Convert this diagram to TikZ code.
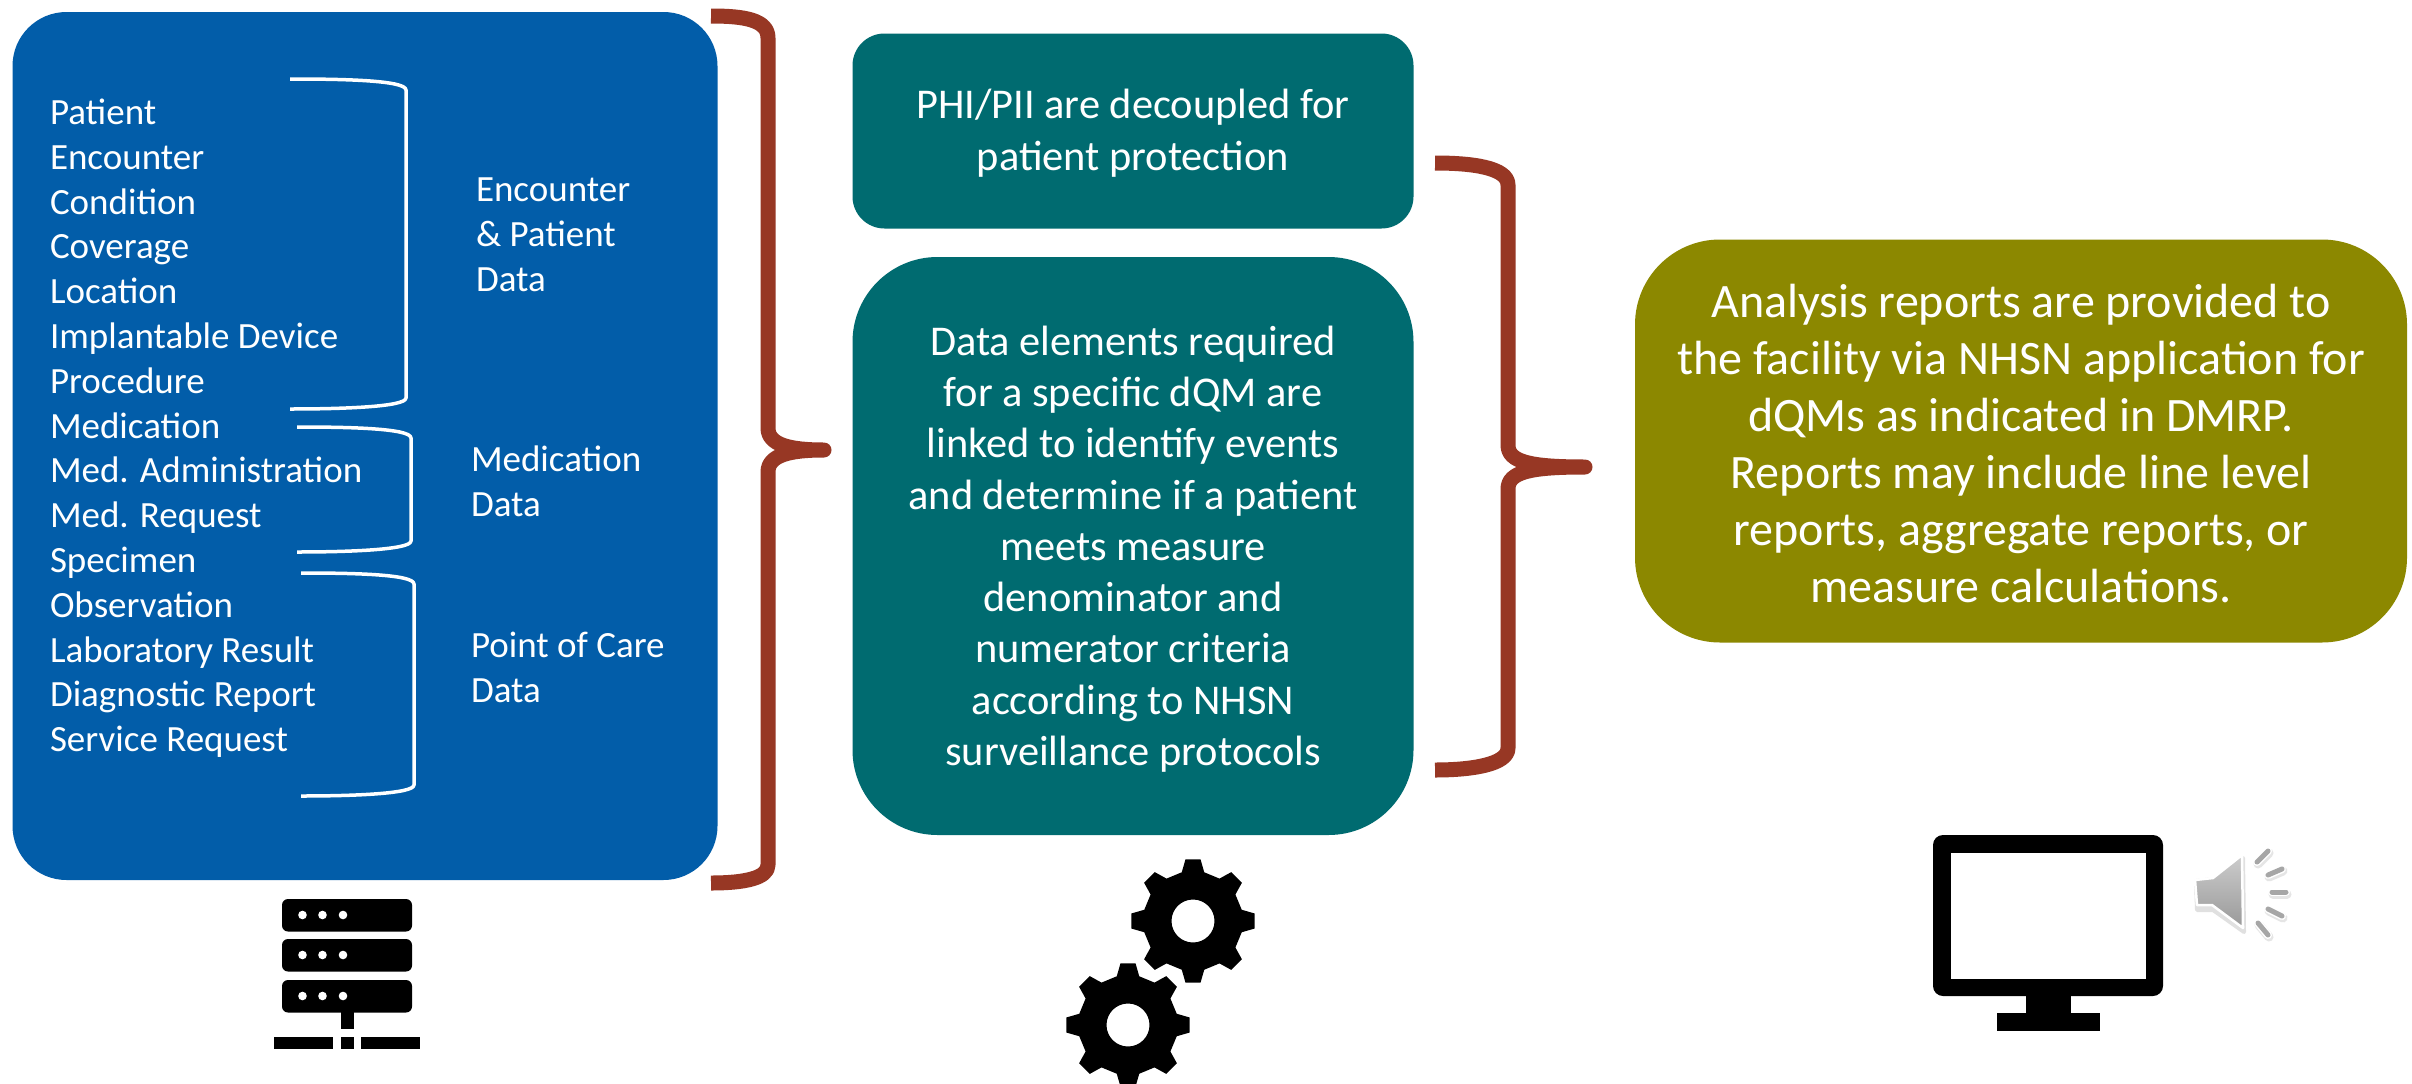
\documentclass[tikz,border=0pt]{standalone}
\usepackage{fontspec}
\setmainfont{Carlito}
\usetikzlibrary{shadings}
\definecolor{boxblue}{HTML}{025DA9}
\definecolor{boxteal}{HTML}{006B70}
\definecolor{boxolive}{HTML}{8C8800}
\definecolor{bracered}{HTML}{973724}
\tikzset{
  x=1pt,y=-1pt,
  panel/.style={draw=none,text=white,align=center,inner sep=0pt,outer sep=0pt},
  listtext/.style={text=white,align=left,inner sep=0pt,outer sep=0pt,anchor=north west,
    font=\fontsize{37}{44.8}\selectfont},
  bigbrace/.style={draw=bracered,line width=15pt,line join=round},
  thinbrace/.style={draw=white,line width=3.5pt,line join=round},
  raystroke/.style={line cap=round,line width=5pt}
}
\newcommand{\gearat}[2]{%
  \fill[black,even odd rule,shift={(#1,#2)}] (-13:50)
    \foreach \a in {0,45,...,315}{ -- (\a-13:50) -- (\a-7:62) -- (\a+7:62) -- (\a+13:50) } -- cycle
    (0,0) circle[radius=21.5];}
\begin{document}
\begin{tikzpicture}
\useasboundingbox (0,0) rectangle (2412,1084);
\fill[white] (0,0) rectangle (2412,1084);
% panels
\node[panel,fill=boxblue,minimum width=705pt,minimum height=868pt,rounded corners=54pt] (source) at (365,446) {};
\node[panel,fill=boxteal,minimum width=561pt,minimum height=195pt,rounded corners=32pt] (phi) at (1133,131) {};
\node[panel,font=\fontsize{42.4}{52}\selectfont] (phitext) at (1133,133.5) {PHI/PII are decoupled for\\patient protection};
\node[panel,fill=boxteal,minimum width=561pt,minimum height=578pt,rounded corners=85pt] (link) at (1133,546) {};
\node[panel,font=\fontsize{42.4}{51.3}\selectfont] (linktext) at (1133,549) {Data elements required\\for a specific dQM are\\linked to identify events\\and determine if a patient\\meets measure\\denominator and\\numerator criteria\\according to NHSN\\surveillance protocols};
\node[panel,fill=boxolive,minimum width=772pt,minimum height=403pt,rounded corners=85pt] (reports) at (2021,441) {};
\node[panel,font=\fontsize{48}{57}\selectfont] (reportstext) at (2021,444) {Analysis reports are provided to\\the facility via NHSN application for\\dQMs as indicated in DMRP.\\Reports may include line level\\reports, aggregate reports, or\\measure calculations.};
% lists
\node[listtext] (listA) at (50,99) {Patient\\Encounter\\Condition\\Coverage\\Location\\Implantable Device\\Procedure\\Medication\\Med. Administration\\Med. Request\\Specimen\\Observation\\Laboratory Result\\Diagnostic Report\\Service Request};
\node[listtext] (labA) at (476,178) {Encounter\\\& Patient\\Data};
\node[listtext] (labB) at (471,446) {Medication\\Data};
\node[listtext] (labC) at (471,632) {Point of Care\\Data};
% thin braces
\draw[thinbrace] (290,79) .. controls (340,79) and (406,80) .. (406,90) -- (406,398) .. controls (406,407) and (340,409) .. (290,409);
\draw[thinbrace] (297,427) .. controls (345,427) and (411,428) .. (411,438) -- (411,541) .. controls (411,550) and (345,552) .. (297,552);
\draw[thinbrace] (301,573) .. controls (350,573) and (414,574) .. (414,584) -- (414,785) .. controls (414,794) and (350,796) .. (301,796);
% big braces
\draw[bigbrace] (711,16) .. controls (745,16) and (768,20) .. (768,38) -- (768,428) .. controls (768,445) and (790,450) .. (824,450) .. controls (790,450) and (768,455) .. (768,472) -- (768,865) .. controls (768,878) and (745,883) .. (711,883);
\draw[bigbrace] (1435,163) .. controls (1470,163) and (1508,167) .. (1508,185) -- (1508,445) .. controls (1508,462) and (1530,467) .. (1585,467) .. controls (1530,467) and (1508,472) .. (1508,489) -- (1508,748) .. controls (1508,765) and (1470,770) .. (1435,770);
% server icon
\foreach \t in {899,939,980}{
  \fill[black,rounded corners=6pt] (282,\t) rectangle (412,\t+32.5);
  \foreach \d in {302.5,322.5,343}{\fill[white] (\d,\t+16) circle[radius=4.3];}
}
\fill[black] (341,1012) rectangle (354,1028.5);
\fill[black] (274,1036.5) rectangle (333,1049);
\fill[black] (341,1036.5) rectangle (354,1049);
\fill[black] (361,1036.5) rectangle (420,1049);
% gears
\gearat{1193}{921}
\gearat{1128}{1025}
% monitor
\fill[black,rounded corners=10pt] (1933,835) rectangle (2163,996);
\fill[white] (1951,853) rectangle (2146,979);
\fill[black] (2026,990) rectangle (2071,1020);
\fill[black] (1997,1013) rectangle (2100,1031);
% speaker
\path[fill=black!12,line width=4pt,draw=black!12,line join=round] (2196,881) -- (2214,879) -- (2243,858) -- (2244,932) -- (2213,910) -- (2197,910) -- cycle;
\path[top color=black!20,bottom color=black!40,draw=white,line width=2.5pt,line join=round] (2195,880) -- (2213,878) -- (2242,855) -- (2243,928) -- (2212,905) -- (2197,905) -- cycle;
\foreach \xa/\ya/\xb/\yb in {2257/862/2268/851,2268/875/2282/869,2272/892/2286/892,2268/909/2282/916,2258/923/2268/935}{
  \draw[raystroke,line width=9pt,black!10] (\xa+1,\ya+2) -- (\xb+1,\yb+2);
  \draw[raystroke,line width=8pt,white] (\xa,\ya) -- (\xb,\yb);
  \draw[raystroke,line width=5pt,black!35] (\xa,\ya) -- (\xb,\yb);
}
\end{tikzpicture}
\end{document}
